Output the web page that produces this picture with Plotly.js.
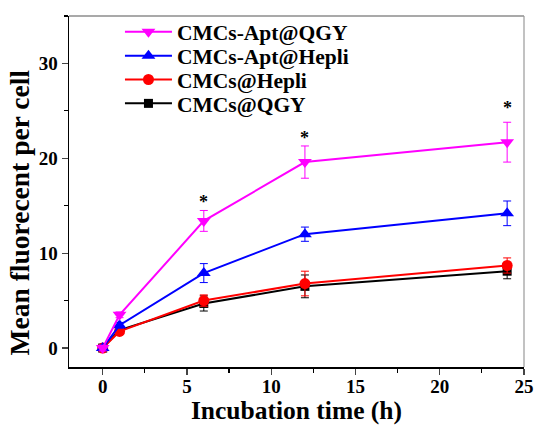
<!DOCTYPE html>
<html>
<head>
<meta charset="utf-8">
<script src="https://cdn.plot.ly/plotly-3.0.1.min.js"></script>
<style>html,body{margin:0;padding:0;background:#fff;}#chart{width:535px;height:425px;}</style>
</head>
<body>
<div id="chart"></div>
<script>
const times = [0, 1, 6, 12, 24];
const seriesNames = ["CMCs@QGY", "CMCs@Hepli", "CMCs-Apt@Hepli", "CMCs-Apt@QGY"];
const qgy = [0, 1.9, 4.7, 6.5, 8.1];
const qgyErr = [0.3, 0.3, 0.8, 1.2, 0.8];
const hepli = [0, 1.75, 5.0, 6.8, 8.7];
const hepliErr = [0.3, 0.3, 0.6, 1.3, 0.8];
const aptHepli = [0, 2.4, 7.9, 12.0, 14.2];
const aptHepliErr = [0.3, 0.3, 1.0, 0.75, 1.3];
const aptQgy = [0, 3.5, 13.4, 19.6, 21.7];
const aptQgyErr = [0.3, 0.3, 1.1, 1.7, 2.1];
const starTimes = [6, 12, 24];
const starValues = [15.4, 22.1, 25.3];

const colors = ["#000000", "#ff0000", "#0000ff", "#ff00ff"];
const symbols = ["square", "circle", "triangle-up", "triangle-down"];
const ys = [qgy, hepli, aptHepli, aptQgy];
const errs = [qgyErr, hepliErr, aptHepliErr, aptQgyErr];
const msize = [9, 11, 12, 12];
const legendIds = ["legend4", "legend3", "legend2", "legend"];
const legendY = [0.751, 0.819, 0.887, 0.955];

const traces = ys.map((y, i) => ({
  x: times, y: y, name: "<b>" + seriesNames[i] + "</b>", type: "scatter", mode: "lines+markers",
  legend: legendIds[i],
  line: {color: colors[i], width: 2},
  marker: {color: colors[i], symbol: symbols[i], size: msize[i]},
  error_y: {type: "data", array: errs[i], visible: true, color: colors[i], thickness: 1, width: 4}
}));

const font = "'Liberation Serif', 'Times New Roman', serif";
const annotations = starTimes.map((t, i) => ({
  x: t, y: starValues[i], xref: "x", yref: "y", text: "<b>*</b>", showarrow: false,
  font: {family: font, size: 18, color: "#000"}, yanchor: "middle"
}));
annotations.push({
  x: -0.108, y: 0.44, xref: "paper", yref: "paper", text: "<b>Mean fluorecent per cell</b>",
  textangle: -90, showarrow: false, xanchor: "center", yanchor: "middle",
  font: {family: font, size: 27.5, color: "#000"}
});

const layout = {
  width: 535, height: 425,
  margin: {l: 69, r: 11, t: 13, b: 58},
  paper_bgcolor: "#fff", plot_bgcolor: "#fff",
  showlegend: true,
  xaxis: {range: [-2, 25], tickvals: [0, 5, 10, 15, 20, 25], ticks: "outside", ticklen: 6, tickwidth: 1.2,
    minor: {dtick: 2.5, ticks: "outside", ticklen: 4, tickwidth: 1.2, tickcolor: "#000"},
    showline: true, linecolor: "#000", linewidth: 1.5, mirror: false, showgrid: false, zeroline: false,
    tickfont: {family: font, size: 19, color: "#000", weight: "bold"}, ticklabelstandoff: -4,
    title: {text: "<b>Incubation time (h)</b>", font: {family: font, size: 25.5, color: "#000"}, standoff: 4}},
  yaxis: {range: [-2, 35], tickvals: [0, 10, 20, 30], ticks: "outside", ticklen: 6, tickwidth: 1.2,
    minor: {dtick: 5, ticks: "outside", ticklen: 4, tickwidth: 1.2, tickcolor: "#000"},
    showline: true, linecolor: "#000", linewidth: 1.5, mirror: false, showgrid: false, zeroline: false,
    tickfont: {family: font, size: 19, color: "#000", weight: "bold"}},
  shapes: [
    {type: "line", xref: "paper", yref: "paper", x0: 0, x1: 1, y0: 1, y1: 1, line: {color: "#555", width: 1.2}},
    {type: "line", xref: "paper", yref: "paper", x0: 1, x1: 1, y0: 0, y1: 1, line: {color: "#999", width: 1.2}}
  ],
  annotations: annotations
};
legendIds.forEach((id, i) => {
  layout[id] = {x: 0.112, y: legendY[i], xanchor: "left", yanchor: "middle", itemwidth: 47,
    font: {family: font, size: 21.5, color: "#000"}, bgcolor: "rgba(0,0,0,0)"};
});

Plotly.newPlot("chart", traces, layout, {displayModeBar: false, staticPlot: true});
</script>
</body>
</html>
